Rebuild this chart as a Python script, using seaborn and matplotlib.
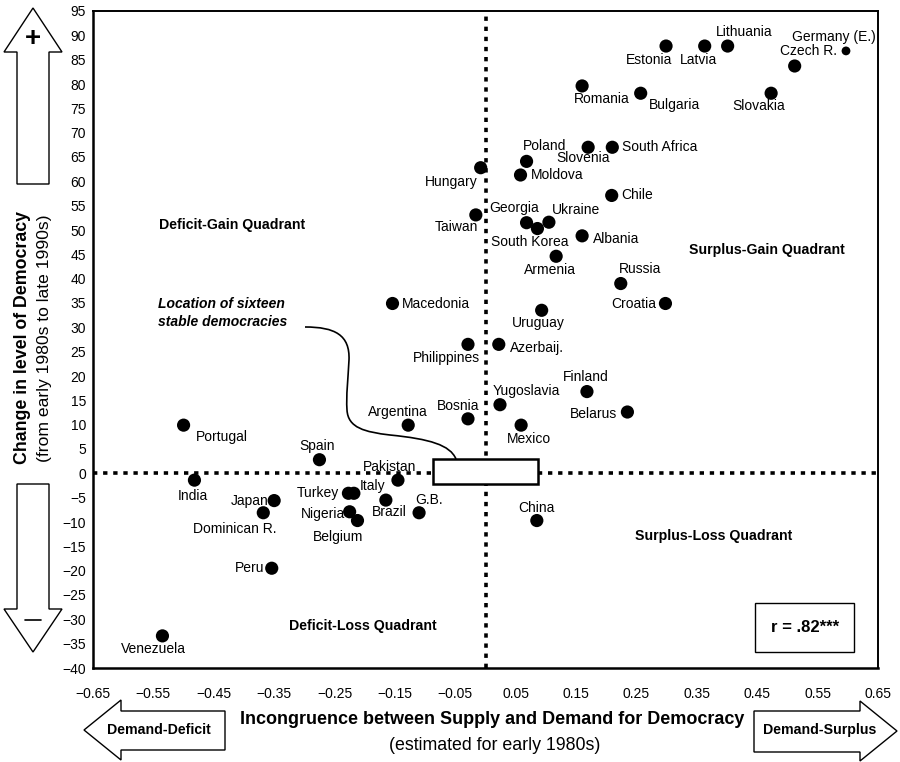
import matplotlib
matplotlib.use("Agg")
import numpy as np
import pandas as pd
import seaborn as sns
import matplotlib.pyplot as plt
from matplotlib.patches import Rectangle, Polygon, PathPatch
from matplotlib.path import Path

# -----------------------------
# DATA
# -----------------------------

countries = [
    "Estonia", "Latvia", "Lithuania", "Germany (E.)", "Czech R.", "Romania",
    "Bulgaria", "Slovakia", "Poland", "Slovenia", "South Africa", "Hungary",
    "Moldova", "Chile", "Taiwan", "Georgia", "South Korea", "Ukraine",
    "Albania", "Armenia", "Russia", "Croatia", "Uruguay", "Macedonia",
    "Philippines", "Azerbaij.", "Argentina", "Bosnia", "Portugal", "Spain",
    "Pakistan", "India", "Turkey", "Italy", "Brazil", "Nigeria", "Belgium",
    "G.B.", "Japan", "Dominican R.", "Peru", "Venezuela", "Yugoslavia",
    "Mexico", "Finland", "Belarus", "China",
]
incongruence = [
    0.299, 0.363, 0.401, 0.597, 0.512, 0.160,
    0.257, 0.473, 0.068, 0.170, 0.210, -0.008,
    0.058, 0.209, -0.016, 0.068, 0.086, 0.105,
    0.160, 0.117, 0.224, 0.298, 0.093, -0.154,
    -0.029, 0.022, -0.128, -0.029, -0.500, -0.275,
    -0.145, -0.482, -0.227, -0.218, -0.165, -0.225, -0.212,
    -0.110, -0.350, -0.368, -0.354, -0.535, 0.024,
    0.059, 0.168, 0.235, 0.085,
]
change = [
    87.8, 87.8, 87.8, 86.8, 83.7, 79.6,
    78.1, 78.1, 64.1, 67.0, 67.0, 62.8,
    61.3, 57.1, 53.1, 51.5, 50.3, 51.6,
    48.8, 44.6, 39.0, 34.9, 33.5, 34.9,
    26.5, 26.5, 9.9, 11.2, 9.9, 2.8,
    -1.4, -1.4, -4.1, -4.1, -5.5, -7.9, -9.7,
    -8.1, -5.6, -8.1, -19.5, -33.4, 14.1,
    9.9, 16.8, 12.6, -9.7,
]

x_ticks = np.round(np.arange(-0.65, 0.651, 0.1), 2)
y_ticks = np.arange(-40, 96, 5)

# label placement: offset in pixels (dx right, dy down) and alignment
label_pos = {
    "Estonia": (-17, 14, "center"), "Latvia": (-6, 14, "center"),
    "Lithuania": (17, -14, "center"), "Germany (E.)": (-12, -14, "center"),
    "Czech R.": (14, -15, "center"), "Romania": (20, 13, "center"),
    "Bulgaria": (34, 12, "center"), "Slovakia": (-12, 13, "center"),
    "Poland": (18, -15, "center"), "Slovenia": (-5, 11, "center"),
    "South Africa": (10, 0, "left"), "Hungary": (-3, 14, "right"),
    "Moldova": (10, 0, "left"), "Chile": (10, 0, "left"),
    "Taiwan": (2, 12, "right"), "Georgia": (-12, -15, "center"),
    "South Korea": (-8, 13, "center"), "Ukraine": (27, -12, "center"),
    "Albania": (11, 3, "left"), "Armenia": (-6, 14, "center"),
    "Russia": (19, -15, "center"), "Croatia": (-9, 1, "right"),
    "Uruguay": (-3, 13, "center"), "Macedonia": (9, 1, "left"),
    "Philippines": (12, 14, "right"), "Azerbaij.": (11, 4, "left"),
    "Argentina": (-10, -13, "center"), "Bosnia": (-10, -13, "center"),
    "Portugal": (12, 12, "left"), "Spain": (-2, -14, "center"),
    "Pakistan": (-8, -13, "center"), "India": (-2, 16, "center"),
    "Turkey": (-9, 0, "right"), "Italy": (19, -7, "center"),
    "Brazil": (3, 12, "center"), "Nigeria": (-5, 2, "right"),
    "Belgium": (-19, 16, "center"), "G.B.": (10, -13, "center"),
    "Japan": (-6, 0, "right"), "Dominican R.": (-29, 16, "center"),
    "Peru": (-7, 0, "right"), "Venezuela": (-9, 13, "center"),
    "Yugoslavia": (26, -14, "center"), "Mexico": (8, 14, "center"),
    "Finland": (-1, -15, "center"), "Belarus": (-10, 2, "right"),
    "China": (0, -13, "center"),
}

df = pd.DataFrame({"Country": countries, "Incongruence": incongruence, "Change": change})

# -----------------------------
# SETUP
# -----------------------------

sns.set_theme(style="white")
plt.rcParams["font.family"] = ["Liberation Sans", "DejaVu Sans"]
plt.rcParams["text.color"] = "black"
plt.rcParams["axes.labelcolor"] = "black"
plt.rcParams["xtick.color"] = "black"
plt.rcParams["ytick.color"] = "black"
plt.rcParams["axes.unicode_minus"] = True

W, H = 900, 762
fig = plt.figure(figsize=(W / 100, H / 100), dpi=100)
ax = fig.add_axes([93 / W, 1 - 668 / H, (878 - 93) / W, (668 - 11) / H])

# -----------------------------
# SCATTER
# -----------------------------

small = df["Country"] == "Germany (E.)"
sns.scatterplot(data=df[~small], x="Incongruence", y="Change", ax=ax,
                color="black", s=90, edgecolor="none", zorder=4, legend=False)
sns.scatterplot(data=df[small], x="Incongruence", y="Change", ax=ax,
                color="black", s=40, edgecolor="none", zorder=4, legend=False)

for c, xv, yv in zip(countries, incongruence, change):
    dx, dy, ha = label_pos[c]
    ax.annotate(c, (xv, yv), xytext=(dx * 0.72, -dy * 0.72), textcoords="offset points",
                ha=ha, va="center", fontsize=10, color="black", zorder=5)

# quadrant lines
dots = (0, (1.2, 1.6))
ax.axvline(0, color="black", lw=2.6, ls=dots, zorder=2)
ax.axhline(0, color="black", lw=2.6, ls=dots, zorder=2)

# stable democracies box
ax.add_patch(Rectangle((-0.087, -2.2), 0.174, 5.2, facecolor="white",
                       edgecolor="black", lw=1.8, zorder=3))

# quadrant labels
qkw = dict(fontsize=10.2, fontweight="bold", ha="center", va="center", color="black")
ax.text(-0.42, 51.0, "Deficit-Gain Quadrant", **qkw)
ax.text(0.466, 45.8, "Surplus-Gain Quadrant", **qkw)
ax.text(0.378, -12.8, "Surplus-Loss Quadrant", **qkw)
ax.text(-0.203, -31.3, "Deficit-Loss Quadrant", **qkw)

ax.text(-0.543, 34.8, "Location of sixteen", fontsize=10, fontweight="bold",
        fontstyle="italic", ha="left", va="center")
ax.text(-0.543, 31.0, "stable democracies", fontsize=10, fontweight="bold",
        fontstyle="italic", ha="left", va="center")

# r box
ax.add_patch(Rectangle((0.843, 0.024), 0.127, 0.075, transform=ax.transAxes,
                       facecolor="white", edgecolor="black", lw=1.0, zorder=3))
ax.text(0.9065, 0.062, "r = .82***", transform=ax.transAxes, fontsize=12,
        fontweight="bold", ha="center", va="center", zorder=4)

# axes styling
ax.set_xlim(-0.65, 0.65)
ax.set_ylim(-40, 95)
ax.set_xticks(x_ticks)
ax.set_xticklabels([f"{v:.2f}".replace("-", "\u2212") for v in x_ticks])
ax.set_yticks(y_ticks)
ax.set_yticklabels([str(v).replace("-", "\u2212") for v in y_ticks])
ax.tick_params(direction="in", length=4, width=1, labelsize=10, pad=5, colors="black")
ax.tick_params(axis="x", pad=14)
ax.set_xlabel("")
ax.set_ylabel("")
for side in ["left", "bottom"]:
    ax.spines[side].set_linewidth(1.8)
for side in ["top", "right"]:
    ax.spines[side].set_linewidth(1.4)
for sp in ax.spines.values():
    sp.set_color("black")

# -----------------------------
# OVERLAY (pixel coords): arrows, curve, axis titles
# -----------------------------

ov = fig.add_axes([0, 0, 1, 1], zorder=10)
ov.set_xlim(0, W)
ov.set_ylim(H, 0)
ov.axis("off")
ov.patch.set_alpha(0)

akw = dict(closed=True, facecolor="white", edgecolor="black", lw=1.0)
ov.add_patch(Polygon([(33, 8), (62, 52), (49, 52), (49, 184), (17, 184), (17, 52), (4, 52)], **akw))
ov.add_patch(Polygon([(33, 652), (62, 609), (49, 609), (49, 484), (17, 484), (17, 609), (4, 609)], **akw))
ov.add_patch(Polygon([(84, 730), (121, 700), (121, 711), (225, 711), (225, 750), (121, 750), (121, 760)], **akw))
ov.add_patch(Polygon([(897, 731), (860, 701), (860, 711), (754, 711), (754, 752), (860, 752), (860, 761)], **akw))
ov.text(33, 39, "+", fontsize=20, fontweight="bold", ha="center", va="center")
ov.plot([25, 41], [620, 620], color="black", lw=1.2)
ov.text(159, 730, "Demand-Deficit", fontsize=10.2, fontweight="bold", ha="center", va="center")
ov.text(820, 730, "Demand-Surplus", fontsize=10.2, fontweight="bold", ha="center", va="center")

curve = Path(
    [(305, 327), (335, 327), (350, 335), (349, 360),
     (348, 380), (346, 395), (347, 410),
     (348, 428), (365, 432), (390, 435),
     (430, 439), (450, 445), (456, 459)],
    [Path.MOVETO, Path.CURVE4, Path.CURVE4, Path.CURVE4,
     Path.CURVE4, Path.CURVE4, Path.CURVE4,
     Path.CURVE4, Path.CURVE4, Path.CURVE4,
     Path.CURVE4, Path.CURVE4, Path.CURVE4])
ov.add_patch(PathPatch(curve, facecolor="none", edgecolor="black", lw=1.2))

ov.text(23, 337, "Change in level of Democracy", rotation=90, fontsize=12.8,
        fontweight="bold", ha="center", va="center")
ov.text(45, 338, "(from early 1980s to late 1990s)", rotation=90, fontsize=12.6,
        ha="center", va="center")
ov.text(492, 720, "Incongruence between Supply and Demand for Democracy",
        fontsize=13, fontweight="bold", ha="center", va="center")
ov.text(495, 745, "(estimated for early 1980s)", fontsize=12.8, ha="center", va="center")

fig.savefig("out.png", dpi=100)
plt.close()
